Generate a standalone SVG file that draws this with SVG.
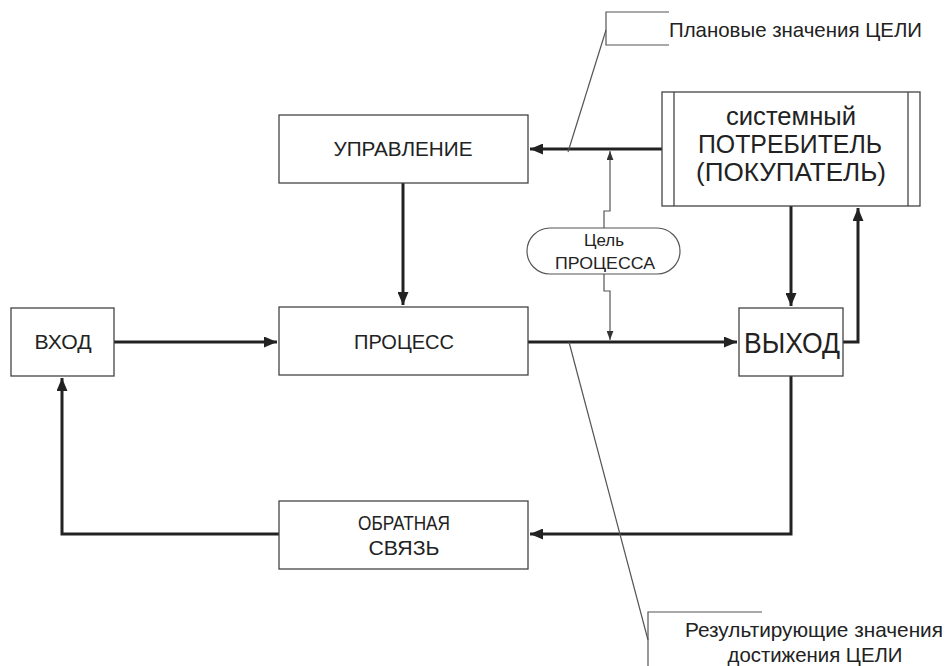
<svg xmlns="http://www.w3.org/2000/svg" width="946" height="666" viewBox="0 0 946 666">
<defs>
<style>
.box{fill:#fff;stroke:#444;stroke-width:1.3}
.t{font-family:"Liberation Sans",Arial,sans-serif;fill:#222;text-anchor:middle}
.thick{fill:none;stroke:#222;stroke-width:3}
.thin{fill:none;stroke:#555;stroke-width:1.2}
</style>
<marker id="ah" viewBox="0 0 13 11" refX="13" refY="5.5" markerWidth="13" markerHeight="11" markerUnits="userSpaceOnUse" orient="auto">
<path d="M0,0 L13,5.5 L0,11 Z" fill="#222"/>
</marker>
<marker id="ahs" viewBox="0 0 8 6" refX="8" refY="3" markerWidth="9" markerHeight="7" markerUnits="userSpaceOnUse" orient="auto">
<path d="M0,0 L8,3 L0,6 Z" fill="#333"/>
</marker>
</defs>
<rect width="946" height="666" fill="#fff"/>

<g id="connectors">
<path class="thick" d="M662,149 H530" marker-end="url(#ah)"/>
<path class="thick" d="M403,183 V305" marker-end="url(#ah)"/>
<path class="thick" d="M114,342 H277" marker-end="url(#ah)"/>
<path class="thick" d="M528,342 H737" marker-end="url(#ah)"/>
<path class="thick" d="M791,206 V306" marker-end="url(#ah)"/>
<path class="thick" d="M843,342 H858 V208" marker-end="url(#ah)"/>
<path class="thick" d="M791,376 V534 H530" marker-end="url(#ah)"/>
<path class="thick" d="M279,534 H62 V378" marker-end="url(#ah)"/>
<path class="thin" d="M604,228 V211 H610 V151" marker-end="url(#ahs)"/>
<path class="thin" d="M604,274 V291 H610 V340" marker-end="url(#ahs)"/>
<path class="thin" d="M568,152 L606,30"/>
<path class="thin" d="M569,342 L648,640"/>
</g>

<g id="callout-plan">
<path class="thin" d="M669,12 H606 V45 H669"/>
<text class="t" x="669" y="37" font-size="21" style="text-anchor:start" textLength="253" lengthAdjust="spacingAndGlyphs">Плановые значения ЦЕЛИ</text>
</g>

<g id="callout-result">
<path class="thin" d="M762,612 H648 V666"/>
<text class="t" x="814" y="637" font-size="21" textLength="258" lengthAdjust="spacingAndGlyphs">Результирующие значения</text>
<text class="t" x="815" y="662" font-size="21" textLength="175" lengthAdjust="spacingAndGlyphs">достижения ЦЕЛИ</text>
</g>

<g id="upravlenie">
<rect class="box" x="279" y="115" width="249" height="68"/>
<text class="t" x="403" y="156" font-size="20" textLength="139" lengthAdjust="spacingAndGlyphs">УПРАВЛЕНИЕ</text>
</g>

<g id="potrebitel">
<rect class="box" x="662" y="92" width="258" height="114"/>
<line class="box" x1="674" y1="92" x2="674" y2="206"/>
<line class="box" x1="908" y1="92" x2="908" y2="206"/>
<text class="t" x="791" y="125" font-size="25" textLength="130" lengthAdjust="spacingAndGlyphs">системный</text>
<text class="t" x="790" y="153" font-size="25" textLength="184" lengthAdjust="spacingAndGlyphs">ПОТРЕБИТЕЛЬ</text>
<text class="t" x="791" y="181" font-size="25" textLength="190" lengthAdjust="spacingAndGlyphs">(ПОКУПАТЕЛЬ)</text>
</g>

<g id="cel">
<rect class="thin" x="527" y="228" width="153" height="46" rx="23" ry="23" fill="#fff"/>
<text class="t" x="604" y="246" font-size="17" textLength="40" lengthAdjust="spacingAndGlyphs">Цель</text>
<text class="t" x="605" y="269" font-size="17" textLength="100" lengthAdjust="spacingAndGlyphs">ПРОЦЕССА</text>
</g>

<g id="vhod">
<rect class="box" x="11" y="308" width="103" height="68"/>
<text class="t" x="63" y="349" font-size="21" textLength="57" lengthAdjust="spacingAndGlyphs">ВХОД</text>
</g>

<g id="process">
<rect class="box" x="279" y="307" width="249" height="68"/>
<text class="t" x="404" y="349" font-size="20" textLength="100" lengthAdjust="spacingAndGlyphs">ПРОЦЕСС</text>
</g>

<g id="vyhod">
<rect class="box" x="739" y="308" width="104" height="68"/>
<text class="t" x="792" y="353" font-size="29" textLength="96" lengthAdjust="spacingAndGlyphs">ВЫХОД</text>
</g>

<g id="obratnaya">
<rect class="box" x="279" y="501" width="249" height="68"/>
<text class="t" x="404" y="530" font-size="20" textLength="92" lengthAdjust="spacingAndGlyphs">ОБРАТНАЯ</text>
<text class="t" x="404" y="555" font-size="20" textLength="71" lengthAdjust="spacingAndGlyphs">СВЯЗЬ</text>
</g>
</svg>
